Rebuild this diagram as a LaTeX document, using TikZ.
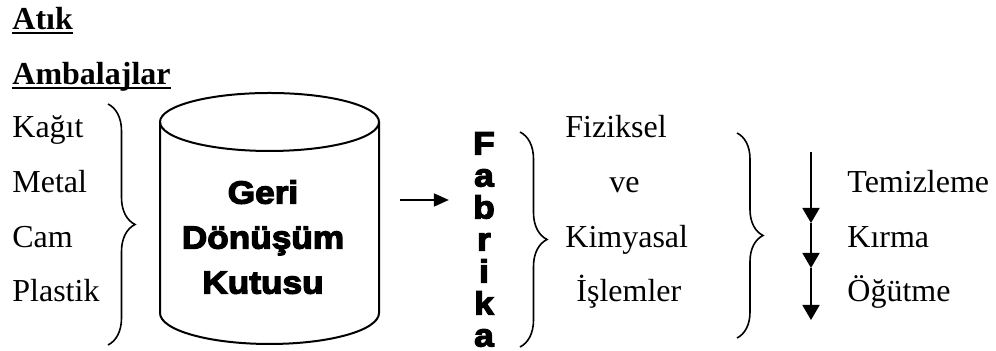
\documentclass[tikz,border=0pt]{standalone}
\usepackage{fontspec}
\setmainfont{Liberation Serif}
\newfontfamily\kalinfont{Liberation Sans Bold}[FakeBold=4,FakeStretch=1.1]
\usetikzlibrary{positioning,calc,arrows.meta,decorations.pathreplacing}

\begin{document}
\begin{tikzpicture}[x=0.5pt, y=0.5pt, font=\fontsize{16}{19}\selectfont, >=Stealth,
  yazi/.style={inner sep=0pt, anchor=base west},
  kalin/.style={inner sep=0pt, align=center, font=\kalinfont\fontsize{16}{#1}\selectfont},
  kume/.style={decorate, decoration={brace, amplitude=#1}, line width=0.8pt},
  ok/.style={-{Triangle[length=7.5pt,width=#1]}, line width=0.9pt}]
  \useasboundingbox (0,0) rectangle (996,351);

  % basliklar
  \node[yazi] (atik) at (12,321) {\textbf{Atık}};
  \node[yazi] (ambalaj) at (12,266) {\textbf{Ambalajlar}};
  \draw[line width=1pt] ([yshift=-1.6pt]atik.base west) -- ([yshift=-1.6pt]atik.base east);
  \draw[line width=1pt] ([yshift=-1.6pt]ambalaj.base west) -- ([yshift=-1.6pt]ambalaj.base east);

  % atik turleri
  \foreach \ad/\yy in {kagit/213, metal/158, cam/103, plastik/49}
    \coordinate (\ad) at (12,\yy);
  \node[yazi] (kagitY) at (kagit) {Kağıt};
  \node[yazi] (metalY) at (metal) {Metal};
  \node[yazi] (camY) at (cam) {Cam};
  \node[yazi] (plastikY) at (plastik) {Plastik};
  \coordinate (k1ust) at (108,247);
  \coordinate (k1alt) at (108,6);
  \draw[kume=13.5pt] (k1ust) -- (k1alt);

  % geri donusum kutusu
  \draw[line width=1pt] (269.5,229) ellipse [x radius=109.5, y radius=29];
  \draw[line width=1pt] (160,229) -- (160,38) arc [start angle=180, end angle=360, x radius=109.5, y radius=31] -- (379,229);
  \node[kalin=22.5, anchor=north] (kutu) at (263,171) {Geri\\Dönüşüm\\Kutusu};

  % fabrika
  \node[kalin=16, anchor=north] (fabrika) at (484,219) {F\\a\\b\\r\\i\\k\\a};
  \coordinate (okbas) at (400,151);
  \draw[ok=6.5pt, shorten >=12pt] (okbas) -- (fabrika.west |- okbas);
  \coordinate (k2ust) at (520,219);
  \coordinate (k2alt) at (520,4);
  \draw[kume=13.5pt] (k2ust) -- (k2alt);

  \node[yazi] (fiziksel) at (565,213) {Fiziksel};
  \node[yazi] (ve) at (609,158) {ve};
  \node[yazi] (kimyasal) at (565,103) {Kimyasal};
  \node[yazi] (islemler) at (576,49) {İşlemler};
  \coordinate (k3ust) at (737,218);
  \coordinate (k3alt) at (737,13);
  \draw[kume=13pt] (k3ust) -- (k3alt);

  % islem sirasi
  \coordinate (d0) at (811,199);
  \coordinate (d1) at (811,128);
  \coordinate (d2) at (811,83);
  \coordinate (d3) at (811,31);
  \draw[ok=8.5pt] (d0) -- (d1);
  \draw[ok=8.5pt] (d1) -- (d2);
  \draw[ok=8.5pt] (d2) -- (d3);
  \node[yazi] (temizleme) at (847,158) {Temizleme};
  \node[yazi] (kirma) at (847,103) {Kırma};
  \node[yazi] (ogutme) at (847,49) {Öğütme};
\end{tikzpicture}
\end{document}
